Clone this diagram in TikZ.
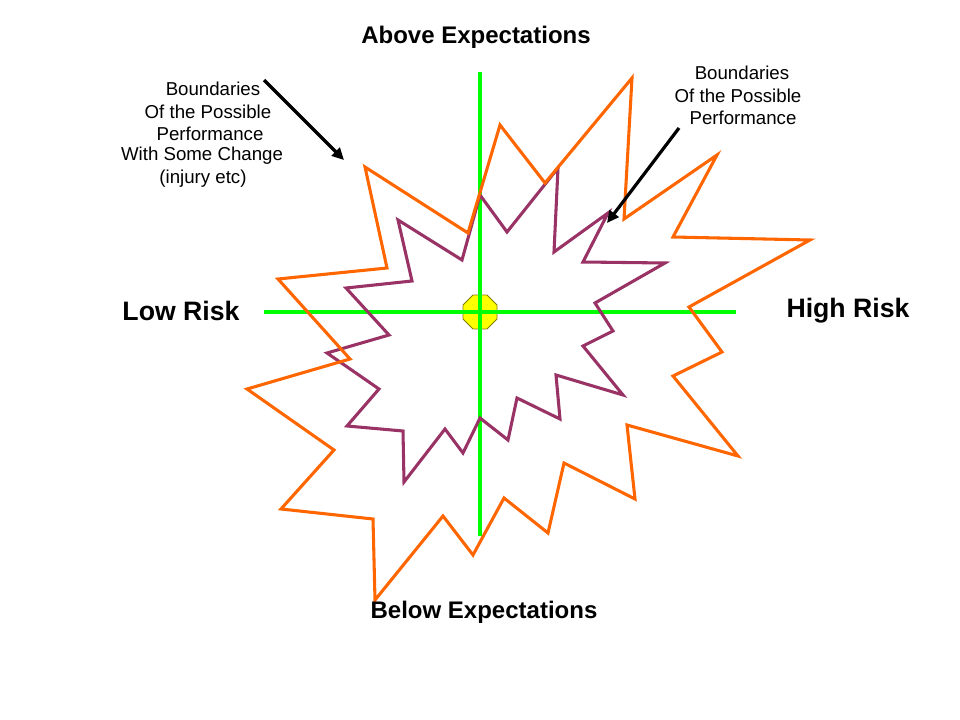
\documentclass[tikz,border=0pt]{standalone}
\usepackage{fontspec}
\setmainfont{Liberation Sans}
\usetikzlibrary{shapes.geometric,arrows.meta}
\definecolor{orangeline}{RGB}{255,102,0}
\definecolor{purpleline}{RGB}{153,51,102}
\definecolor{axisgreen}{RGB}{0,255,0}
\definecolor{octfill}{RGB}{255,255,0}
\definecolor{octedge}{RGB}{128,128,0}
\tikzset{
  axisline/.style={draw=axisgreen, line width=3pt},
  outerline/.style={draw=orangeline, line width=2.3pt, line join=miter},
  innerline/.style={draw=purpleline, line width=2.3pt, line join=miter},
  pointer/.style={draw=black, line width=2.4pt, -{Triangle[length=9pt,width=8.5pt]}},
  biglabel/.style={font=\fontsize{20}{24}\selectfont\bfseries, inner sep=0pt},
  midlabel/.style={font=\fontsize{18}{21.6}\selectfont\bfseries, inner sep=0pt},
  notelabel/.style={font=\fontsize{14}{16.8}\selectfont, inner sep=0pt},
}
\begin{document}
\begin{tikzpicture}[x=0.75pt,y=-0.75pt]
\fill[white] (0,0) rectangle (960,720);
\useasboundingbox (0,0) rectangle (960,720);

% centre marker
\node[regular polygon, regular polygon sides=8, minimum size=27.6pt, inner sep=0pt,
      fill=octfill, draw=octedge, line width=0.6pt] (ctr) at (480,312) {};

% axes
\coordinate (vtop) at (480,72);
\coordinate (vbot) at (480,536);
\coordinate (hleft) at (264,312);
\coordinate (hright) at (736,312);
\draw[axisline] (vtop) -- (vbot);
\draw[axisline] (hleft) -- (hright);

% inner boundary
\draw[innerline] (480,195) -- (507,232) -- (558,168) -- (554,252) -- (608,213) -- (583,262)
  -- (665,263) -- (595,303) -- (613,331) -- (583,346) -- (623,395) -- (556,375) -- (560,419)
  -- (517,398) -- (508,440) -- (480,418) -- (463,453) -- (445,429) -- (404,482) -- (403,431)
  -- (347,426) -- (379,389) -- (327,353) -- (389,335) -- (346,288) -- (412,281) -- (398,220)
  -- (462,260) -- cycle;

% outer boundary
\draw[outerline] (365,167) -- (468,233) -- (500,125) -- (545,183) -- (632,78) -- (624,219)
  -- (717,155) -- (673,237) -- (810,240) -- (689,307) -- (722,352) -- (673,376) -- (738,456)
  -- (627,425) -- (635,499) -- (564,463) -- (548,533) -- (504,498) -- (473,555) -- (443,516)
  -- (375,600) -- (373,519) -- (281,509) -- (334,450) -- (247,389) -- (350,359) -- (278,279)
  -- (387,268) -- cycle;

% labels
\node[midlabel] (above) at (476,37) {Above Expectations};
\node[midlabel] (below) at (484,612) {Below Expectations};
\node[biglabel] (low) at (181,311) {Low Risk};
\node[biglabel] (high) at (848,311) {High Risk};

% left note
\node[notelabel] (ln1) at (213,89) {Boundaries};
\node[notelabel] (ln2) at (208,112) {Of the Possible};
\node[notelabel] (ln3) at (210,134) {Performance};
\node[notelabel] (ln4) at (202,156) {With Some Change};
\node[notelabel] (ln5) at (203,179) {(injury etc)};

% right note
\node[notelabel] (rn1) at (742,73) {Boundaries};
\node[notelabel] (rn2) at (738,96) {Of the Possible};
\node[notelabel] (rn3) at (743,118) {Performance};

% pointers
\coordinate (lps) at (264,80);
\coordinate (lpe) at (344,160);
\coordinate (rps) at (679,128);
\coordinate (rpe) at (607,223);
\draw[pointer] (lps) -- (lpe);
\draw[pointer] (rps) -- (rpe);
\end{tikzpicture}
\end{document}
